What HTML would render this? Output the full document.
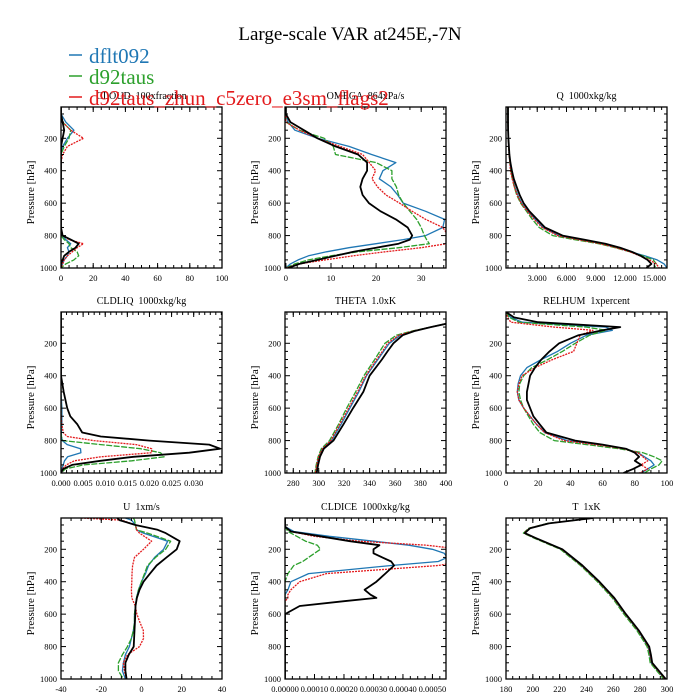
<!DOCTYPE html>
<html><head><meta charset="utf-8"><style>
body{margin:0;background:#fff;}
svg{display:block;font-family:"Liberation Serif",serif;}
svg text{white-space:pre;}
</style></head><body>
<svg id="chart" width="700" height="700" viewBox="0 0 700 700">
<rect width="700" height="700" fill="#fff"/>
<text x="350" y="40" font-size="19" text-anchor="middle">Large-scale VAR at245E,-7N</text>
<g id="panels"></g>
<g>
<g><line x1="69" y1="55" x2="82" y2="55" stroke="#1f77b4" stroke-width="1.5"/><text x="89" y="63" font-size="21" fill="#1f77b4">dflt092</text></g>
<g><line x1="69" y1="76" x2="82" y2="76" stroke="#2ca02c" stroke-width="1.5"/><text x="89" y="84" font-size="21" fill="#2ca02c">d92taus</text></g>
<g><line x1="69" y1="97" x2="82" y2="97" stroke="#e31a1c" stroke-width="1.5"/><text x="89" y="105" font-size="21" fill="#e31a1c">d92taus_zhun_c5zero_e3sm_flags2</text></g>
</g>
</svg>
<script>
// ---- data ----
const pLev = [7,50,100,150,200,250,300,350,400,450,500,550,600,650,700,750,800,825,850,875,900,925,950,975,1000];
const cloudBlue  = [0,0,3,8,4,1,0,0,0,0,0,0,0,0,0,0,1,3,6,4,5,4,2,1,0];
const cloudGreen = [0,0,1,6,5,2,0,0,0,0,0,0,0,0,0,0,0,2,5,6,10,11,8,3,0];
const cloudRed   = [0,0,1,6,14,4,1,0,0,0,0,0,0,0,0,0,1,5,14,10,7,4,2,1,0];
const cloudBlack = [0,0,1,2,1,0,0,0,0,0,0,0,0,0,0,0,1,6,11,9,5,2,1,0,0];
const omegaBlue  = [0,0,0.5,2,7,14,19,24.4,21.5,20.7,23.3,24.8,26,31,35.2,34.8,31,26,20,14,9,5,2.7,1,0];
const omegaGreen = [0,0,0,3,8.5,10.5,11,20,23.5,23.5,24.5,25,26,27.5,29,30,30.7,31.2,31.8,25,16,10,5,2,0];
const omegaRed   = [0,0,0,3,7,12,17,18.5,19.9,19.1,20.3,22.2,25.2,28,31,34.8,36,36.5,35.6,30,22,15,8.7,3,0];
const omegaBlack = [0,0,1,4,7,11,16,18,18,17,16.5,17,18.4,21,24.4,27,28,27.5,25,20,15,11,7,3,0.5];
const qBlue  = [0,0,0,0.02,0.04,0.08,0.12,0.2,0.3,0.5,0.7,1.0,1.4,2.0,2.8,3.6,5.2,7.4,9.6,11.2,12.6,14,15.3,16,16.3];
const qGreen = [0,0,0,0.02,0.04,0.08,0.12,0.2,0.3,0.45,0.65,0.9,1.3,1.9,2.5,3.2,4.6,6.8,9.3,11,12.5,13.8,14.9,15.2,15.0];
const qRed   = [0,0,0,0.02,0.04,0.08,0.12,0.2,0.25,0.45,0.65,0.95,1.35,2.0,2.7,3.5,5.1,7.2,9.5,11.1,12.5,13.5,14.5,15.2,15.5];
const qBlack = [0,0,0,0.02,0.05,0.1,0.15,0.25,0.4,0.6,0.9,1.2,1.6,2.2,3.0,3.8,5.6,7.8,10.0,11.5,12.7,13.6,14.3,14.7,14.2];
const liqLev = [7,300,400,500,600,650,700,750,775,800,825,850,875,900,925,950,975,1000];
const liqBlack = [0,0,0,0.0006,0.0014,0.0021,0.0037,0.0048,0.009,0.020,0.0335,0.036,0.029,0.0164,0.0089,0.0025,0.0005,0];
const liqBlue  = [0,0,0,0,0.0002,0.0002,0.0002,0.0001,0.0001,0.0003,0.0014,0.0044,0.0045,0.0015,0.0008,0.0005,0.0002,0];
const liqGreen = [0,0,0,0,0,0,0,0,0.0001,0.0004,0.009,0.018,0.0225,0.0233,0.016,0.0051,0.001,0];
const liqRed   = [0,0,0,0,0,0,0.0002,0.0005,0.0014,0.0074,0.017,0.0205,0.0205,0.009,0.003,0.0012,0.0003,0];
const thLev = [80,100,125,150,200,250,300,400,500,600,700,800,850,900,950,1000];
const thBlack = [400,388,375,366,358.7,354,349.6,340,335,327,319.4,311.5,304,301,299.5,298.4];
const thBlue  = [400,388,374,364,355.5,351,346.5,337.5,331.5,324.5,317.5,310,303,300,298.5,297.5];
const thRed   = [400,388,374,363,354,350,345.5,337,330.5,323.5,316.5,309.5,303,300,298.5,297.5];
const thGreen = [400,388,373,361,352,348,344,335.5,329,322,315.5,308.5,302,299.5,298,297];
const rhLev = [7,40,70,100,120,150,200,250,300,350,400,450,500,550,600,650,700,750,800,825,850,875,900,925,950,975,1000];
const rhBlack = [0,5,20,71,60,45,33,27,22,18,15,14,13,13,15,17,21,25,43,60,74.5,80,82.7,80,84,79,73];
const rhBlue  = [0,3,10,62,66,50,40,32,22,13,9,7.5,7,8,11,15,19,24,38,58,74,82,86,90,92,88,84];
const rhGreen = [0,2,8,50,62,52,43,35,26,16,11,8.5,8,9,11,14,17,21,30,50,70,85,92,97,95,90,86];
const rhRed   = [0,1,3,30,54,46,44,42,29,18,10,8,7,8,11,15,19,24,36,56,73,82,85,88,84,88,83];
const uLev = [7,20,50,80,100,150,200,250,300,350,400,450,500,550,600,650,700,750,800,850,900,950,1000];
const uBlack = [-12,-11,-3,8,12,19,17.5,12.4,7.5,4.2,1,-1,-2.3,-3,-3.1,-3.3,-3.5,-3.7,-3.9,-6.3,-8,-8,-7.4];
const uBlue  = [-8,-5,-3,-2.5,1,13,11,6.5,3.5,2,0,-1.5,-2.5,-3,-3.5,-3.5,-4,-5,-6,-8,-9,-9.5,-8];
const uGreen = [-4,-3.5,-3,-2.5,3,14.5,12,7,3,1.5,0,-1.5,-2.5,-3,-3.5,-3.5,-4,-5,-7,-9.5,-11.5,-11.5,-9];
const uRed   = [-30,-10,-3,-2.5,-1,5,1,-3.5,-4.4,-4.7,-4.8,-5,-4.8,-3.1,-2.3,-0.8,0.9,1,-1,-7,-9,-8.5,-7.5];
const iceLev = [7,60,90,120,150,175,200,225,250,275,300,350,400,450,480,500,520,550,600,1000];
const iceBlack = [0,0,0.00002,0.00012,0.00022,0.00032,0.00030,0.00030,0.00033,0.00036,0.00037,0.00034,0.00031,0.00027,0.00029,0.00031,0.00020,0.00005,0,0];
const iceBlue  = [0,0,0.00003,0.00015,0.0003,0.00042,0.0005,0.00054,0.00055,0.00052,0.00036,0.00008,0.00002,0.00001,0,0,0,0,0,0];
const iceRed   = [0,0,0.00002,0.0001,0.00025,0.00048,0.0006,0.0006,0.0006,0.0006,0.00052,0.00014,0.00005,0.00002,0.00001,0.00001,0,0,0,0];
const iceGreen = [0,0,0.00001,0.00004,0.00007,0.00011,0.00012,0.0001,0.00008,0.00006,0.00003,0.00001,0,0,0,0,0,0,0,0];
const tLev = [7,40,70,100,130,200,300,400,500,600,700,800,850,900,950,1000];
const tBlack = [245,212,198,194,202,222,237,249.6,260.7,269.4,279,286.7,288,289,294,299];
const tBlue  = [245,211.5,197.5,193.5,201.5,221.2,236.2,248.8,259.9,268.6,278.2,285.9,287.2,288.2,293.2,298.2];
const tRed   = [245,211.5,197.5,193.5,201.5,221.5,236.5,249.1,260.2,268.9,278.5,286.2,287.5,288.5,293.5,298.5];
const tGreen = [245,211,197,193,200.5,220.5,235.5,248.1,259.2,267.9,277.5,285.2,286.5,287.5,292.5,297.5];
const pTicks = [200,400,600,800,1000];

const panels = [
 {name:'cloud',title:'CLOUD  100xfraction',col:0,row:0,xmin:0,xmax:100,ticks:[0,20,40,60,80,100],dec:0,lev:pLev,s:[cloudBlue,cloudGreen,cloudRed,cloudBlack]},
 {name:'omega',title:'OMEGA  864xPa/s',col:1,row:0,xmin:-0.2,xmax:35.5,ticks:[0,10,20,30],dec:0,lev:pLev,s:[omegaBlue,omegaGreen,omegaRed,omegaBlack]},
 {name:'q',title:'Q  1000xkg/kg',col:2,row:0,xmin:-0.2,xmax:16.3,ticks:[3,6,9,12,15],dec:3,lev:pLev,s:[qBlue,qGreen,qRed,qBlack]},
 {name:'cldliq',title:'CLDLIQ  1000xkg/kg',col:0,row:1,xmin:0,xmax:0.0364,ticks:[0,0.005,0.01,0.015,0.02,0.025,0.03],dec:3,lev:liqLev,s:[liqBlue,liqGreen,liqRed,liqBlack]},
 {name:'theta',title:'THETA  1.0xK',col:1,row:1,xmin:273.5,xmax:400,ticks:[280,300,320,340,360,380,400],dec:0,lev:thLev,s:[thBlue,thGreen,thRed,thBlack]},
 {name:'relhum',title:'RELHUM  1xpercent',col:2,row:1,xmin:0,xmax:100,ticks:[0,20,40,60,80,100],dec:0,lev:rhLev,s:[rhBlue,rhGreen,rhRed,rhBlack]},
 {name:'u',title:'U  1xm/s',col:0,row:2,xmin:-40,xmax:40,ticks:[-40,-20,0,20,40],dec:0,lev:uLev,s:[uBlue,uGreen,uRed,uBlack]},
 {name:'cldice',title:'CLDICE  1000xkg/kg',col:1,row:2,xmin:0,xmax:0.000546,ticks:[0,0.0001,0.0002,0.0003,0.0004,0.0005],dec:5,lev:iceLev,s:[iceBlue,iceGreen,iceRed,iceBlack]},
 {name:'t',title:'T  1xK',col:2,row:2,xmin:180,xmax:300,ticks:[180,200,220,240,260,280,300],dec:0,lev:tLev,s:[tBlue,tGreen,tRed,tBlack]}
];
const colLeft=[61,285,506], rowTop=[107,312,518], W=161, H=161, PMIN=7, PMAX=1000;
const colors=['#1f77b4','#2ca02c','#e31a1c','#000'];
const snames=['dflt092','d92taus','d92taus-zhun','obs'];
const NS='http://www.w3.org/2000/svg';
function mk(tag,attrs,parent){const e=document.createElementNS(NS,tag);for(const k in attrs)e.setAttribute(k,attrs[k]);parent.appendChild(e);return e;}
const root=document.getElementById('panels');
panels.forEach((P,i)=>{
  const x0=colLeft[P.col], y0=rowTop[P.row];
  const xs=v=>x0+(v-P.xmin)/(P.xmax-P.xmin)*W;
  const ys=p=>y0+(p-PMIN)/(PMAX-PMIN)*H;
  const g=mk('g',{},root);
  
  
  const t=mk('text',{x:x0+W/2,y:y0-8,'font-size':10,'text-anchor':'middle'},g);
  t.textContent=P.title;
  
  
  const yl=mk('text',{x:0,y:0,'font-size':11,'text-anchor':'middle',transform:`translate(${x0-27},${y0+H/2+5}) rotate(-90)`},g);
  yl.textContent='Pressure [hPa]';
  
  
  const cp=mk('clipPath',{id:'cp'+i},g);
  mk('rect',{x:x0,y:y0,width:W,height:H},cp);
  const lg=mk('g',{'clip-path':`url(#cp${i})`},g);
  P.s.forEach((arr,k)=>{
    const d=arr.map((v,j)=>(j?'L':'M')+xs(v).toFixed(1)+','+ys(P.lev[j]).toFixed(1)).join('');
    const a={d:d,fill:'none',stroke:colors[k],'stroke-width':k==3?1.8:1.3,'stroke-linejoin':'round'};
    if(k==1)a['stroke-dasharray']='6,1.5';
    if(k==2)a['stroke-dasharray']='2,1';
    const path=mk('path',a,lg);
    
    
  });
  const tk=mk('g',{stroke:'#000','stroke-width':1},g);
  for(let p=50;p<=1000;p+=50){
    const y=ys(p), L=(p%200==0)?5:3;
    mk('line',{x1:x0,y1:y,x2:x0+L,y2:y},tk);mk('line',{x1:x0+W,y1:y,x2:x0+W-L,y2:y},tk);
  }
  pTicks.forEach(p=>{
    const lt=mk('text',{x:x0-4,y:ys(p)+3,'font-size':8.5,'text-anchor':'end'},g);
    lt.textContent=p;
    
    
  });
  const step=P.ticks[1]-P.ticks[0];
  for(let v=P.ticks[0]-step;v<=P.xmax+1e-12;v+=step/4){
    if(v<P.xmin-1e-12)continue;
    const x=xs(v);
    mk('line',{x1:x,y1:y0+H,x2:x,y2:y0+H-3},tk);mk('line',{x1:x,y1:y0,x2:x,y2:y0+3},tk);
  }
  P.ticks.forEach(v=>{
    const x=xs(v);
    mk('line',{x1:x,y1:y0+H,x2:x,y2:y0+H-5},tk);mk('line',{x1:x,y1:y0,x2:x,y2:y0+5},tk);
    const lt=mk('text',{x:x,y:y0+H+13,'font-size':8.5,'text-anchor':'middle'},g);
    lt.textContent=v.toFixed(P.dec);
    
    
  });
  const fr=mk('rect',{x:x0,y:y0,width:W,height:H,fill:'none',stroke:'#000','stroke-width':1.3},g);
  
  
});
</script>
</body></html>
